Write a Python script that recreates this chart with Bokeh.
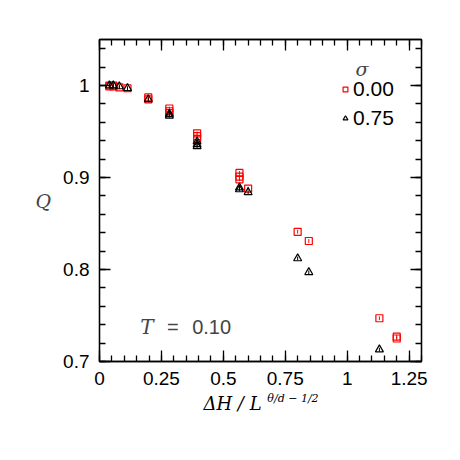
import numpy as np
from bokeh.plotting import figure
from bokeh.models import (LinearAxis, FixedTicker, Range1d, Label, Legend, LegendItem)
from bokeh.embed import file_html
from bokeh.resources import INLINE

# ---- data ----
x_s0 = [0.04, 0.04, 0.056, 0.056, 0.08, 0.113, 0.197, 0.197, 0.282, 0.282, 0.282,
        0.394, 0.394, 0.394, 0.565, 0.565, 0.565, 0.60, 0.80, 0.845, 1.13, 1.20, 1.20]
q_s0 = [1.000, 0.999, 1.000, 0.999, 0.998, 0.997, 0.987, 0.985, 0.975, 0.972, 0.970,
        0.948, 0.945, 0.942, 0.905, 0.901, 0.898, 0.888, 0.841, 0.831, 0.747, 0.727, 0.725]
e_s0 = [0.002] * len(x_s0)

x_s75 = [0.04, 0.056, 0.08, 0.113, 0.197, 0.282, 0.282, 0.394, 0.394, 0.394,
         0.565, 0.565, 0.60, 0.80, 0.845, 1.13]
q_s75 = [1.000, 1.000, 0.999, 0.997, 0.985, 0.969, 0.967, 0.939, 0.936, 0.934,
         0.889, 0.887, 0.884, 0.812, 0.797, 0.713]
e_s75 = [0.002] * len(x_s75)

x_ticks = [0, 0.25, 0.5, 0.75, 1.0, 1.25]
x_tick_labels = ["0", "0.25", "0.5", "0.75", "1", "1.25"]
y_ticks = [0.7, 0.8, 0.9, 1.0]
y_tick_labels = ["0.7", "0.8", "0.9", "1"]
sigma_labels = ["0.00", "0.75"]
x_label_base = "ΔH / L"
x_label_sup = "θ/d − 1/2"

x_minor = [round(v, 2) for v in np.arange(0, 1.30001, 0.05)]
y_minor = [round(v, 2) for v in np.arange(0.70, 1.05001, 0.02)]

FONT = "Liberation Sans"
SERIF = "DejaVu Serif"

p = figure(width=450, height=450, output_backend="svg", toolbar_location=None,
           x_range=Range1d(0, 1.3), y_range=Range1d(0.7, 1.05),
           min_border_left=99, min_border_right=29, min_border_top=39, min_border_bottom=89,
           x_axis_type=None, y_axis_type=None)
p.xgrid.visible = False
p.ygrid.visible = False
p.outline_line_color = "black"
p.outline_line_width = 1.3
p.background_fill_color = "white"
p.border_fill_color = "white"

xt = FixedTicker(ticks=x_ticks, minor_ticks=x_minor)
yt = FixedTicker(ticks=y_ticks, minor_ticks=y_minor)

def style(ax, show):
    ax.major_tick_in = 11
    ax.major_tick_out = 0
    ax.minor_tick_in = 6
    ax.minor_tick_out = 0
    ax.axis_line_color = "black"
    ax.axis_line_width = 1.3
    ax.major_tick_line_width = 1.3
    ax.minor_tick_line_width = 1.3
    ax.major_label_text_font = FONT
    ax.major_label_text_font_size = "19px" if show else "0px"
    ax.major_label_text_color = "black"
    ax.major_label_standoff = 10

xb = LinearAxis(ticker=xt, major_label_overrides=dict(zip(x_ticks, x_tick_labels)))
style(xb, True)
p.add_layout(xb, "below")

# x-axis title built from two label-only axes (superscript, then base line)
def text_axis(pos, text, size, standoff):
    ax = LinearAxis(ticker=FixedTicker(ticks=[pos], minor_ticks=[]),
                    major_label_overrides={pos: text})
    ax.axis_line_alpha = 0
    ax.major_tick_line_alpha = 0
    ax.major_tick_in = 0
    ax.major_tick_out = 0
    ax.minor_tick_in = 0
    ax.minor_tick_out = 0
    ax.major_label_text_font = SERIF
    ax.major_label_text_font_style = "italic"
    ax.major_label_text_font_size = size
    ax.major_label_text_color = "black"
    ax.major_label_standoff = standoff
    return ax

p.add_layout(text_axis(0.781, x_label_sup, "11px", 4), "below")
p.add_layout(text_axis(0.537, x_label_base, "18px", -15), "below")

xa = LinearAxis(ticker=xt, major_label_overrides={t: "" for t in x_ticks})
style(xa, False)
p.add_layout(xa, "above")
yl = LinearAxis(ticker=yt, major_label_overrides=dict(zip(y_ticks, y_tick_labels)))
style(yl, True)
yl.axis_label = "Q"
yl.axis_label_orientation = "horizontal"
yl.axis_label_text_font = SERIF
yl.axis_label_text_font_style = "italic"
yl.axis_label_text_font_size = "19px"
yl.axis_label_standoff = 9
p.add_layout(yl, "left")
yr = LinearAxis(ticker=yt, major_label_overrides={t: "" for t in y_ticks})
style(yr, False)
p.add_layout(yr, "right")

# error bars + markers
red = "#ff0000"
p.segment(x0=x_s0, y0=[q - e for q, e in zip(q_s0, e_s0)], x1=x_s0,
          y1=[q + e for q, e in zip(q_s0, e_s0)], line_color=red, line_width=1)
r0 = p.scatter(x_s0, q_s0, marker="square", size=7, fill_alpha=0, line_color=red, line_width=1.2)
p.segment(x0=x_s75, y0=[q - e for q, e in zip(q_s75, e_s75)], x1=x_s75,
          y1=[q + e for q, e in zip(q_s75, e_s75)], line_color="black", line_width=1)
r1 = p.scatter(x_s75, q_s75, marker="triangle", size=8, fill_alpha=0, line_color="black", line_width=1.2)

leg = Legend(items=[LegendItem(label=sigma_labels[0], renderers=[r0]),
                    LegendItem(label=sigma_labels[1], renderers=[r1])],
             location=(240, 231))
leg.label_text_font = FONT
leg.label_text_font_size = "21px"
leg.label_text_color = "black"
leg.glyph_width = 12
leg.glyph_height = 20
leg.label_height = 20
leg.label_standoff = 2
leg.spacing = 5
leg.padding = 0
leg.margin = 0
leg.border_line_alpha = 0
leg.background_fill_alpha = 0
p.add_layout(leg)

# annotations
p.add_layout(Label(x=1.034, y=1.018, text="σ", text_font=SERIF, text_font_style="italic",
                   text_font_size="19px", text_baseline="middle"))
p.add_layout(Label(x=0.165, y=0.737, text="T", text_font=SERIF, text_font_style="italic",
                   text_font_size="20px", text_baseline="middle"))
p.add_layout(Label(x=0.273, y=0.737, text="=", text_font=FONT,
                   text_font_size="20px", text_baseline="middle"))
p.add_layout(Label(x=0.374, y=0.737, text="0.10", text_font=FONT,
                   text_font_size="20px", text_baseline="middle"))

open("out.html", "w").write(file_html(p, INLINE))
